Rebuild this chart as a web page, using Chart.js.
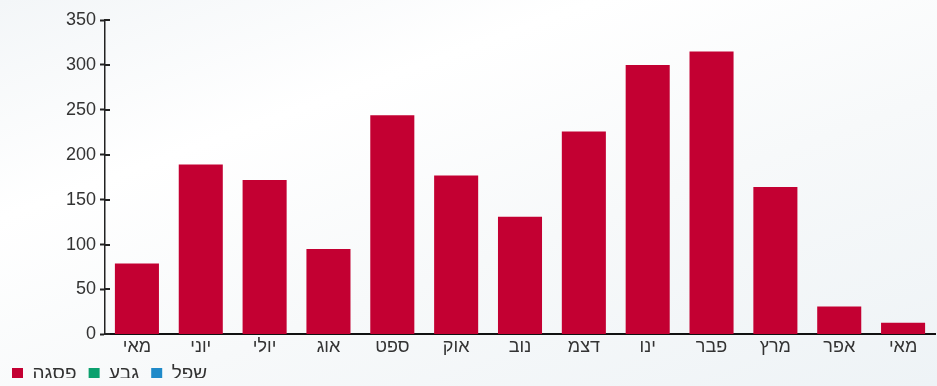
<!DOCTYPE html>
<html><head><meta charset="utf-8">
<script src="https://cdn.jsdelivr.net/npm/chart.js@4"></script>
<style>
html,body{margin:0;padding:0;}
body{width:937px;height:386px;overflow:hidden;background:linear-gradient(160deg,#f3f6f8 0%,#ffffff 30%,#f7f9fa 60%,#eef3f6 100%);}
#wrap{position:relative;width:937px;height:386px;}
</style></head><body>
<div id="wrap"><canvas id="c" width="937" height="386"></canvas></div>
<script>
const categories = ['מאי','יוני','יולי','אוג','ספט','אוק','נוב','דצמ','ינו','פבר','מרץ','אפר','מאי'];
const peakValues = [79, 189, 172, 95, 244, 177, 131, 226, 300, 315, 164, 31, 13];
const seriesNames = ['פסגה','גבע','שפל'];
const seriesColors = ['#C30032','#0BA06E','#1F8AC9'];
const yTicks = [0,50,100,150,200,250,300,350];

const majorTickPlugin = {
  id:'majorTicks',
  afterDraw(chart){
    const y = chart.scales.y, ctx = chart.ctx;
    ctx.save();
    ctx.strokeStyle = '#222'; ctx.lineWidth = 2;
    yTicks.forEach(v=>{
      const p = Math.round(y.getPixelForValue(v));
      ctx.beginPath(); ctx.moveTo(y.right, p); ctx.lineTo(y.right+5, p); ctx.stroke();
    });
    ctx.restore();
  }
};

const legendFitPlugin = {
  id:'legendFit',
  beforeInit(chart){
    const lg = chart.legend;
    const origFit = lg.fit;
    lg.fit = function(){ origFit.call(this); this.height = 26; };
    const origDraw = lg.draw;
    lg.draw = function(){
      const h = this.bottom - this.top;
      this.top = 352; this.bottom = 352 + h;
      origDraw.apply(this, arguments);
    };
  }
};

new Chart(document.getElementById('c'), {
  type:'bar',
  data:{
    labels:categories,
    datasets:[
      {label:seriesNames[0], data:peakValues, backgroundColor:seriesColors[0], borderWidth:0},
      {label:seriesNames[1], data:[], backgroundColor:seriesColors[1]},
      {label:seriesNames[2], data:[], backgroundColor:seriesColors[2]}
    ]
  },
  options:{
    responsive:false, animation:false,
    layout:{padding:{top:20,right:2,left:0,bottom:0}},
    datasets:{bar:{grouped:false, barPercentage:0.69, categoryPercentage:1}},
    plugins:{
      tooltip:{enabled:false},
      legend:{position:'bottom', align:'start',
        labels:{boxWidth:11, boxHeight:11, padding:12, color:'#333', font:{family:'Liberation Sans', size:19}}}
    },
    scales:{
      x:{
        grid:{display:false, drawTicks:false},
        border:{display:true, color:'#111', width:2},
        ticks:{color:'#333', padding:2, font:{family:'Liberation Sans', size:18}}
      },
      y:{
        min:0, max:350,
        afterFit(s){ s.width = 105; },
        grid:{drawOnChartArea:false, drawTicks:true, tickLength:5,
          tickColor:(c)=> (c.tick && c.tick.value % 50 === 0) ? '#222' : '#ff2020',
          tickWidth:(c)=> (c.tick && c.tick.value % 50 === 0) ? 2 : 1.5},
        border:{display:true, color:'#222', width:1.5},
        ticks:{stepSize:25, color:'#333', padding:4, font:{family:'Liberation Sans', size:18},
          callback:(v)=> (v % 50 === 0) ? v : ''}
      }
    }
  },
  plugins:[majorTickPlugin, legendFitPlugin]
});
</script>
</body></html>
